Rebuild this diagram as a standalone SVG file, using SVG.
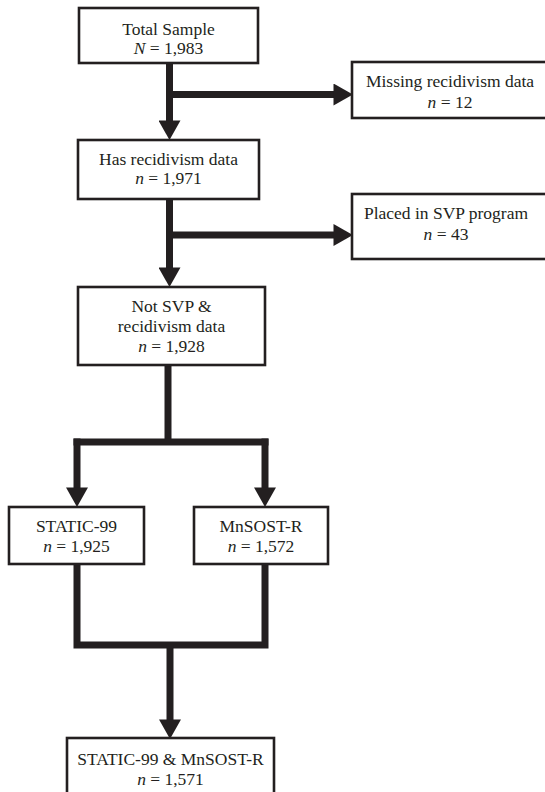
<svg xmlns="http://www.w3.org/2000/svg" width="545" height="792" viewBox="0 0 545 792">
<style>
.box{fill:#fff;stroke:#231f20;stroke-width:2.6}
.t{font-family:"Liberation Serif","Times New Roman",serif;font-size:17.5px;fill:#231f20;text-anchor:middle}
.i{font-style:italic}
.c{fill:none;stroke:#231f20;stroke-width:7;stroke-linejoin:miter}
</style>
<defs>
<marker id="ah" markerUnits="userSpaceOnUse" markerWidth="20" markerHeight="22" refX="10" refY="10.5" orient="auto" viewBox="0 0 19 21">
<path d="M0,0 L18.5,10.5 L0,21 Z" fill="#231f20"/>
</marker>
</defs>
<rect width="545" height="792" fill="#fff"/>
<g id="connectors">
<path class="c" d="M169.5,63 V131" marker-end="url(#ah)"/>
<path class="c" d="M169.5,94.5 H344" marker-end="url(#ah)"/>
<path class="c" d="M169.5,199 V278" marker-end="url(#ah)"/>
<path class="c" d="M169.5,235 H344" marker-end="url(#ah)"/>
<path class="c" d="M168,365 V442"/>
<path class="c" d="M73.5,442 H268.5"/>
<path class="c" d="M77,438.5 V498" marker-end="url(#ah)"/>
<path class="c" d="M265,438.5 V498" marker-end="url(#ah)"/>
<path class="c" d="M77,564 V645 H265 V564"/>
<path class="c" d="M170,645 V730" marker-end="url(#ah)"/>
</g>
<g id="total">
<rect class="box" x="79" y="8" width="179" height="55"/>
<text class="t" x="168.5" y="34.5">Total Sample</text>
<text class="t" x="168.5" y="53.5"><tspan class="i">N</tspan> = 1,983</text>
</g>
<g id="missing">
<rect class="box" x="352" y="62" width="200" height="56"/>
<text class="t" x="450" y="87">Missing recidivism data</text>
<text class="t" x="450" y="107.5"><tspan class="i">n</tspan> = 12</text>
</g>
<g id="has">
<rect class="box" x="78" y="140" width="181" height="59"/>
<text class="t" x="168.5" y="165">Has recidivism data</text>
<text class="t" x="168.5" y="184"><tspan class="i">n</tspan> = 1,971</text>
</g>
<g id="placed">
<rect class="box" x="352" y="194" width="200" height="65"/>
<text class="t" x="446" y="219">Placed in SVP program</text>
<text class="t" x="446" y="240"><tspan class="i">n</tspan> = 43</text>
</g>
<g id="notsvp">
<rect class="box" x="78" y="287" width="187" height="78"/>
<text class="t" x="171.5" y="312">Not SVP &amp;</text>
<text class="t" x="171.5" y="332">recidivism data</text>
<text class="t" x="171.5" y="352"><tspan class="i">n</tspan> = 1,928</text>
</g>
<g id="static">
<rect class="box" x="9" y="507" width="135" height="57"/>
<text class="t" x="76.5" y="532">STATIC-99</text>
<text class="t" x="76.5" y="552"><tspan class="i">n</tspan> = 1,925</text>
</g>
<g id="mnsost">
<rect class="box" x="194" y="507" width="134" height="57"/>
<text class="t" x="261" y="532">MnSOST-R</text>
<text class="t" x="261" y="552"><tspan class="i">n</tspan> = 1,572</text>
</g>
<g id="both">
<rect class="box" x="67" y="738" width="207" height="60"/>
<text class="t" x="170.5" y="765">STATIC-99 &amp; MnSOST-R</text>
<text class="t" x="170.5" y="785"><tspan class="i">n</tspan> = 1,571</text>
</g>
</svg>
